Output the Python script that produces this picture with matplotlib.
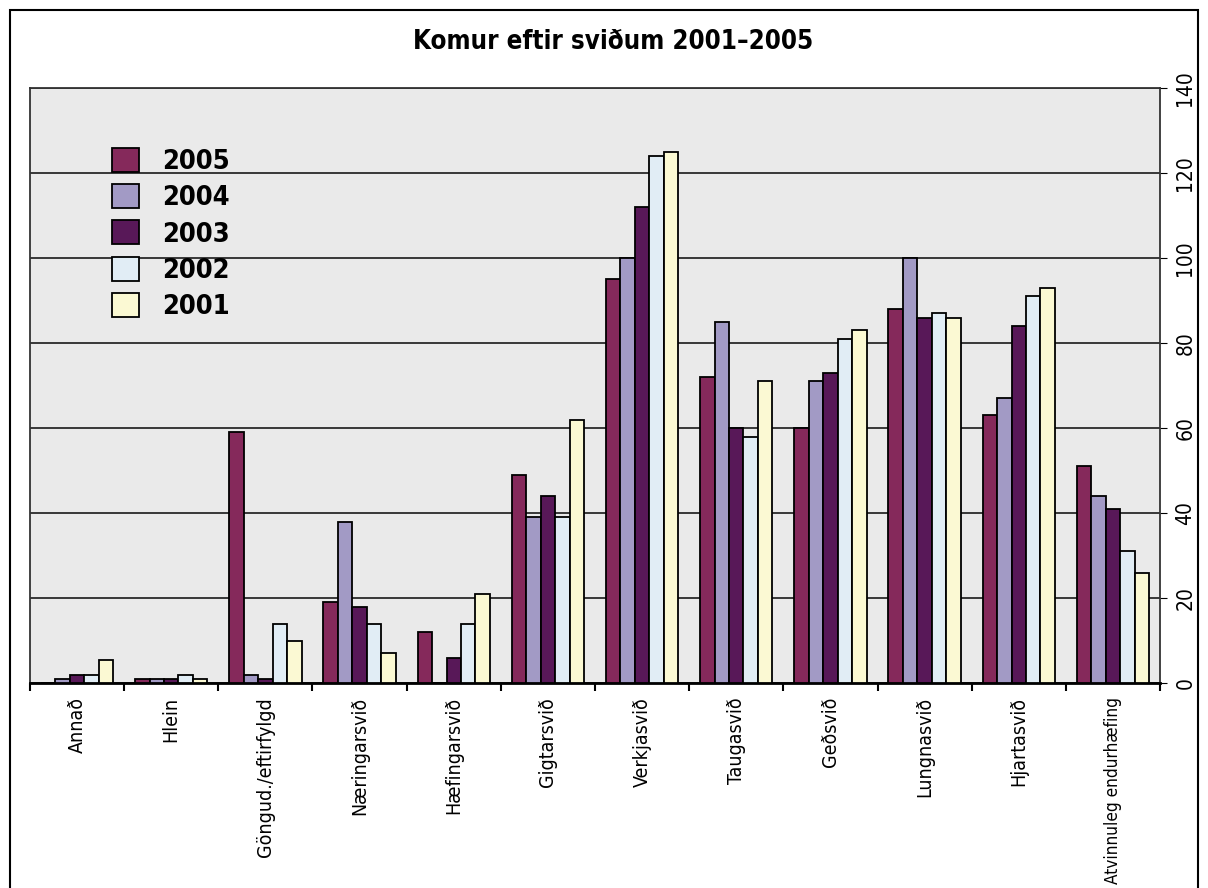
import matplotlib
matplotlib.use("Agg")
import matplotlib.pyplot as plt
from matplotlib.patches import Rectangle
import numpy as np

plt.rcParams['font.family'] = ['DejaVu Sans']
plt.rcParams['font.stretch'] = 'condensed'

categories = ["Annað", "Hlein", "Göngud./eftirfylgd", "Næringarsvið", "Hæfingarsvið",
              "Gigtarsvið", "Verkjasvið", "Taugasvið", "Geðsvið", "Lungnasvið",
              "Hjartasvið", "Atvinnuleg endurhæfing"]
years = ["2005", "2004", "2003", "2002", "2001"]
v2005 = [0, 1, 59, 19, 12, 49, 95, 72, 60, 88, 63, 51]
v2004 = [1, 1, 2, 38, 0, 39, 100, 85, 71, 100, 67, 44]
v2003 = [2, 1, 1, 18, 6, 44, 112, 60, 73, 86, 84, 41]
v2002 = [2, 2, 14, 14, 14, 39, 124, 58, 81, 87, 91, 31]
v2001 = [5.3, 1, 10, 7, 21, 62, 125, 71, 83, 86, 93, 26]
series = [v2005, v2004, v2003, v2002, v2001]
colors = ["#85295B", "#A29AC5", "#581858", "#E1EDF5", "#FBF9D3"]

fig = plt.figure(figsize=(12.08, 8.88), dpi=100)
W, H = 1208, 888
ax = fig.add_axes([30 / W, 1 - 683 / H, 1130 / W, 595 / H])
ax.set_facecolor("#EAEAEA")

# outer frame of the chart
fig.patches.append(Rectangle((10 / W, -0.05), 1188 / W, 1.05 - 10 / H,
                             transform=fig.transFigure, fill=False,
                             edgecolor="black", linewidth=1.5))

x = np.arange(len(categories))
w = 1 / 6.5
for i, vals in enumerate(series):
    ax.bar(x + (i - 2) * w, vals, width=w, color=colors[i], edgecolor="black",
           linewidth=1.3, label=years[i], zorder=3)

ax.set_xlim(-0.5, len(categories) - 0.5)
ax.set_ylim(0, 140)
ax.set_yticks(range(0, 141, 20))
ax.yaxis.tick_right()
ax.tick_params(axis="y", direction="out", length=5, labelsize=15, labelrotation=90, pad=6)
for lab in ax.get_yticklabels():
    lab.set_va("center")
ax.grid(axis="y", color="#1a1a1a", linewidth=1.2, zorder=1)

ax.set_xticks(x)
ax.set_xticklabels(categories, rotation=90, fontsize=14, va="top")
ax.get_xticklabels()[-1].set_fontsize(12.3)  # longest label, kept inside the frame
ax.tick_params(axis="x", length=0, pad=10)
ax.set_xticks(np.arange(len(categories) + 1) - 0.5, minor=True)
ax.tick_params(axis="x", which="minor", direction="out", length=6, width=1.5)

for s in ax.spines.values():
    s.set_color("#333333")
    s.set_linewidth(1.3)
ax.spines["bottom"].set_color("black")
ax.spines["bottom"].set_linewidth(2)

fig.text(613 / W, 1 - 42 / H, "Komur eftir sviðum 2001–2005", ha="center", va="center",
         fontsize=18.5, fontweight="bold")

leg = ax.legend(loc="upper left", bbox_to_anchor=(0.0726, 0.90), frameon=False,
                prop={"size": 19.5, "weight": "bold"}, handlelength=1.0, handleheight=1.0,
                labelspacing=0.33, handletextpad=0.85, borderpad=0, borderaxespad=0)

fig.savefig("out.png", dpi=100)
